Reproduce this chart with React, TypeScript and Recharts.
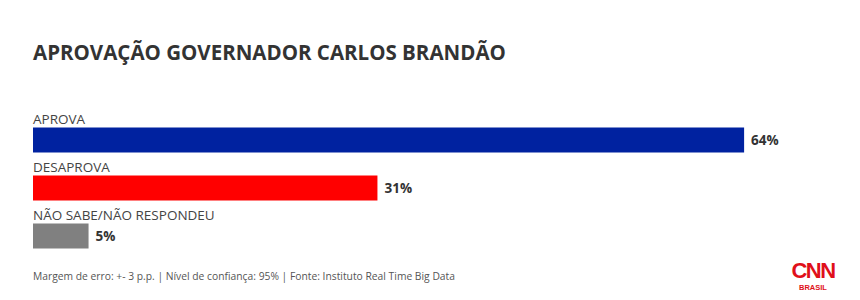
import React from "react";
import { BarChart, Bar, XAxis, YAxis, Cell, LabelList } from "recharts";

const categories = ["APROVA", "DESAPROVA", "NÃO SABE/NÃO RESPONDEU"];
const values = [64, 31, 5];
const colors = ["#0022a0", "#ff0000", "#808080"];

const title = "APROVAÇÃO GOVERNADOR CARLOS BRANDÃO";
const footnote =
  "Margem de erro: +- 3 p.p. | Nível de confiança: 95% | Fonte: Instituto Real Time Big Data";

const data = categories.map((name, i) => ({ name, value: values[i] }));

const FONT = "'Open Sans', sans-serif";

const CategoryLabel = (props: any) => {
  const { x, y, value } = props;
  return (
    <text x={x} y={y - 4} fill="#444" fontSize={13.5} fontFamily={FONT}>
      {value}
    </text>
  );
};

const ValueLabel = (props: any) => {
  const { x, y, width, height, value } = props;
  return (
    <text
      x={x + width + 7}
      y={y + height / 2 + 5}
      fill="#333"
      fontSize={13.5}
      fontWeight={700}
      fontFamily={FONT}
    >
      {value}%
    </text>
  );
};

export default function App() {
  return (
    <div
      style={{
        position: "absolute",
        left: 0,
        top: 0,
        width: 860,
        height: 300,
        background: "#fff",
        fontFamily: FONT,
      }}
    >
      <div
        style={{
          position: "absolute",
          left: 33,
          top: 38,
          fontSize: 20.5,
          fontWeight: 700,
          color: "#333",
          whiteSpace: "nowrap",
        }}
      >
        {title}
      </div>
      <BarChart
        width={860}
        height={300}
        data={data}
        layout="vertical"
        margin={{ top: 115.5, right: 27, bottom: 40.5, left: 33 }}
      >
        <XAxis type="number" domain={[0, 72]} hide />
        <YAxis type="category" dataKey="name" hide width={0} />
        <Bar dataKey="value" barSize={25} isAnimationActive={false}>
          {data.map((d, i) => (
            <Cell key={d.name} fill={colors[i]} />
          ))}
          <LabelList dataKey="name" content={<CategoryLabel />} />
          <LabelList dataKey="value" content={<ValueLabel />} />
        </Bar>
      </BarChart>
      <div
        style={{
          position: "absolute",
          left: 33,
          top: 269,
          fontSize: 10.3,
          color: "#555",
          whiteSpace: "nowrap",
        }}
      >
        {footnote}
      </div>
      <div
        style={{
          position: "absolute",
          left: 791,
          top: 261,
          width: 44,
          textAlign: "center",
          color: "#e0101a",
          fontFamily: "'Liberation Sans', sans-serif",
          lineHeight: 1,
        }}
      >
        <div style={{ fontSize: 22, fontWeight: 900, letterSpacing: -1.5, lineHeight: "20px" }}>
          CNN
        </div>
        <div style={{ fontSize: 7.5, fontWeight: 700, marginTop: 3 }}>BRASIL</div>
      </div>
    </div>
  );
}
